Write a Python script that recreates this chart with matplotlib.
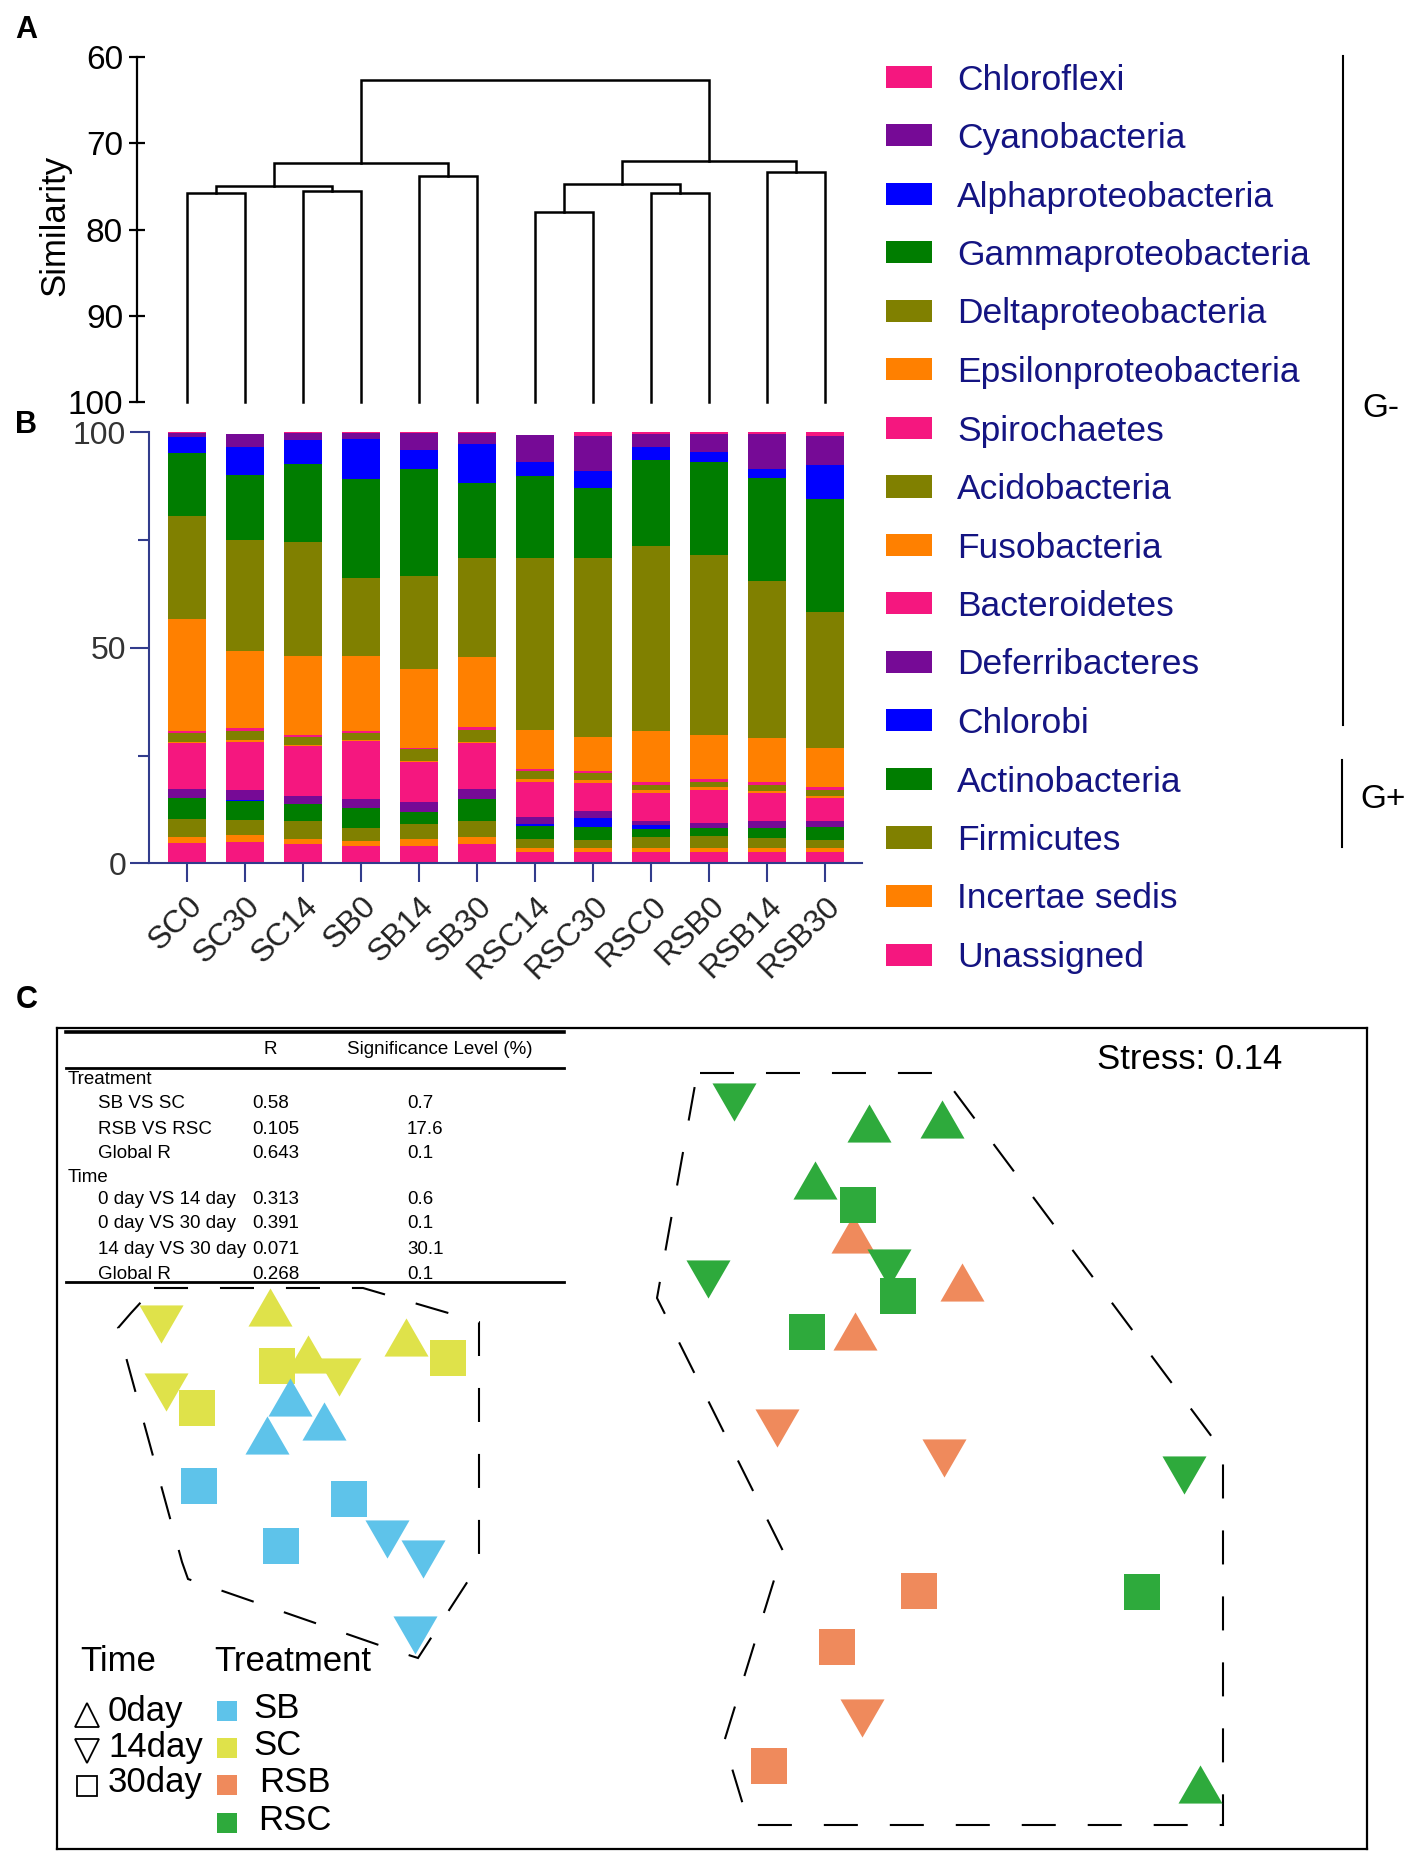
import matplotlib
matplotlib.use('Agg')
import matplotlib.pyplot as plt
from matplotlib.patches import Rectangle, Polygon
from matplotlib.lines import Line2D
import numpy as np

plt.rcParams['font.family'] = ['Liberation Sans', 'DejaVu Sans']

W, H = 1421, 1867

# ---------------- data ----------------
samples = ['SC0', 'SC30', 'SC14', 'SB0', 'SB14', 'SB30',
           'RSC14', 'RSC30', 'RSC0', 'RSB0', 'RSB14', 'RSB30']

# relative abundance (%), stacked bottom -> top
unassigned  = [4.8, 5.0, 4.4, 4.0, 4.0, 4.4, 2.6, 2.6, 2.6, 2.6, 2.6, 2.6]
incertae    = [1.4, 1.6, 1.2, 1.2, 1.6, 1.6, 0.9, 1.0, 0.9, 0.9, 0.9, 0.9]
firmicutes  = [4.1, 3.5, 4.1, 3.1, 3.5, 3.9, 2.1, 1.7, 2.7, 2.8, 2.3, 1.8]
actino      = [4.8, 4.4, 4.0, 4.6, 2.7, 5.0, 3.1, 3.1, 1.7, 1.8, 2.5, 3.2]
chlorobi    = [0.0, 0.3, 0.0, 0.0, 0.0, 0.0, 0.4, 2.0, 1.0, 0.0, 0.0, 0.0]
deferri     = [2.1, 2.1, 1.9, 2.0, 2.4, 2.3, 1.7, 1.8, 1.0, 1.3, 1.4, 1.2]
bacteroid   = [10.6, 11.3, 11.5, 13.5, 9.2, 10.6, 8.1, 6.4, 6.5, 7.6, 6.5, 5.4]
fuso        = [0.4, 0.4, 0.4, 0.2, 0.3, 0.4, 0.6, 0.7, 0.6, 0.6, 0.6, 0.4]
acido       = [2.0, 2.1, 1.7, 1.7, 2.8, 2.7, 1.8, 1.6, 1.2, 1.3, 1.4, 1.5]
spiro       = [0.5, 0.6, 0.6, 0.4, 0.3, 0.7, 0.6, 0.6, 0.7, 0.7, 0.6, 0.6]
epsilon     = [25.9, 18.0, 18.3, 17.4, 18.2, 16.2, 9.0, 7.9, 11.8, 10.2, 10.2, 9.1]
delta       = [24.0, 25.7, 26.5, 18.2, 21.7, 23.1, 40.0, 41.5, 43.0, 41.7, 36.4, 31.5]
gamma       = [14.5, 15.1, 18.1, 22.8, 24.7, 17.3, 19.0, 16.1, 19.9, 21.7, 24.1, 26.3]
alpha       = [3.9, 6.6, 5.5, 9.3, 4.5, 9.2, 3.1, 4.1, 3.1, 2.3, 1.9, 7.9]
cyano       = [0.8, 3.0, 1.6, 1.4, 4.0, 2.4, 6.3, 8.1, 2.8, 4.0, 8.1, 6.8]
chloroflexi = [0.2, 0.0, 0.2, 0.2, 0.1, 0.2, 0.0, 0.8, 0.5, 0.5, 0.5, 0.8]

PINK, PURPLE, BLUE, GREEN, OLIVE, ORANGE = '#f5177f', '#760a96', '#0000ff', '#007d00', '#808000', '#ff8000'

# (label, values, colour) from bottom to top of the stack
stack = [
    ('Unassigned', unassigned, PINK),
    ('Incertae sedis', incertae, ORANGE),
    ('Firmicutes', firmicutes, OLIVE),
    ('Actinobacteria', actino, GREEN),
    ('Chlorobi', chlorobi, BLUE),
    ('Deferribacteres', deferri, PURPLE),
    ('Bacteroidetes', bacteroid, PINK),
    ('Fusobacteria', fuso, ORANGE),
    ('Acidobacteria', acido, OLIVE),
    ('Spirochaetes', spiro, PINK),
    ('Epsilonproteobacteria', epsilon, ORANGE),
    ('Deltaproteobacteria', delta, OLIVE),
    ('Gammaproteobacteria', gamma, GREEN),
    ('Alphaproteobacteria', alpha, BLUE),
    ('Cyanobacteria', cyano, PURPLE),
    ('Chloroflexi', chloroflexi, PINK),
]

# dendrogram merges: (node a, node b, similarity); new nodes numbered from 12
merges = [(0, 1, 75.8), (2, 3, 75.5), (12, 13, 75.0), (4, 5, 73.8), (14, 15, 72.3),
          (6, 7, 78.0), (8, 9, 75.8), (17, 18, 74.7), (10, 11, 73.3), (19, 20, 72.0),
          (16, 21, 62.7)]

# ANOSIM table
table_rows  = ['Treatment', 'SB VS SC', 'RSB VS RSC', 'Global R', 'Time',
               '0 day VS 14 day', '0 day VS 30 day', '14 day VS 30 day', 'Global R']
table_r     = ['', '0.58', '0.105', '0.643', '', '0.313', '0.391', '0.071', '0.268']
table_sig   = ['', '0.7', '17.6', '0.1', '', '0.6', '0.1', '30.1', '0.1']

# NMDS coordinates (arbitrary units), by treatment and time
nmds = {
    'SC':  {'0':  ([2.13, 2.51, 3.49], [5.42, 4.95, 5.12]),
            '14': ([1.04, 2.82, 1.09], [5.25, 4.72, 4.57]),
            '30': ([3.91, 2.20, 1.40], [4.91, 4.83, 4.41])},
    'SB':  {'0':  ([2.33, 2.67, 2.10], [4.52, 4.28, 4.14]),
            '14': ([3.30, 3.66, 3.58], [3.10, 2.90, 2.14]),
            '30': ([1.42, 2.92, 2.24], [3.63, 3.50, 3.03])},
    'RSB': {'0':  ([7.96, 9.05, 7.98], [6.15, 5.67, 5.18]),
            '14': ([7.20, 8.87, 8.05], [4.21, 3.91, 1.31]),
            '30': ([8.62, 7.80, 7.12], [2.58, 2.02, 0.83])},
    'RSC': {'0':  ([8.12, 8.85, 7.58, 11.43], [7.26, 7.30, 6.69, 0.65]),
            '14': ([6.77, 8.32, 6.51, 11.27], [7.47, 5.81, 5.70, 3.74]),
            '30': ([8.01, 8.41, 7.50, 10.85], [6.44, 5.53, 5.17, 2.57])},
}
treat_colors = {'SB': '#5ec3ea', 'SC': '#dfe24a', 'RSB': '#ef8a5c', 'RSC': '#2eaa3c'}
hull_left = [(0.97, 5.61), (3.06, 5.61), (4.22, 5.27), (4.22, 2.85), (3.61, 1.91),
             (3.42, 1.97), (1.31, 2.70), (1.25, 2.87), (0.61, 5.21), (0.74, 5.36)]
hull_right = [(6.43, 7.76), (8.85, 7.76), (8.94, 7.62), (11.58, 4.08), (11.66, 3.93),
              (11.66, 0.24), (6.93, 0.24), (6.87, 0.41), (6.67, 1.07), (7.26, 2.98),
              (6.00, 5.51), (6.38, 7.64)]
stress = 0.14

# ---------------- figure ----------------
fig = plt.figure(figsize=(W / 100, H / 100), dpi=100)


def fx(px):
    return px / W


def fy(py):
    return 1 - py / H


NAVY = '#323c8c'
TXT_NAVY = '#141482'

# ---- Panel A: dendrogram ----
axd = fig.add_axes([fx(137), fy(402.3), (862 - 137) / W, (402.3 - 57) / H])
node_x = list(range(len(samples)))
node_h = [100.0] * len(samples)
for a, b, h in merges:
    axd.plot([node_x[a], node_x[a], node_x[b], node_x[b]],
             [node_h[a], h, h, node_h[b]], color='black', lw=1.8,
             solid_joinstyle='miter', clip_on=False)
    node_x.append((node_x[a] + node_x[b]) / 2)
    node_h.append(h)
axd.set_xlim(-(187 - 137) / 58, 11 + (862 - 825) / 58)
axd.set_ylim(100, 60)
axd.set_yticks([60, 70, 80, 90, 100])
axd.set_xticks([])
for s in ['top', 'right', 'bottom']:
    axd.spines[s].set_visible(False)
axd.spines['left'].set_linewidth(1.6)
axd.tick_params(axis='y', direction='inout', length=12, width=1.6, pad=4,
                labelsize=24)
axd.patch.set_alpha(0)
fig.text(fx(55), fy(225), 'Similarity', rotation=90, fontsize=25,
         ha='center', va='center')

# ---- Panel B: stacked bars ----
axb = fig.add_axes([fx(149), fy(863.3), (862 - 149) / W, (863.3 - 432.3) / H])
xpos = np.arange(len(samples))
bottom = np.zeros(len(samples))
for name, vals, col in stack:
    axb.bar(xpos, vals, bottom=bottom, width=0.67, color=col, linewidth=0)
    bottom += np.array(vals)
axb.set_xlim(-(187 - 149) / 58, 11 + (862 - 825) / 58)
axb.set_ylim(0, 100)
axb.set_yticks([0, 50, 100])
axb.set_yticks([25, 75], minor=True)
axb.set_xticks(xpos)
axb.set_xticklabels(samples, rotation=45, ha='right', rotation_mode='anchor')
for s in ['top', 'right']:
    axb.spines[s].set_visible(False)
for s in ['left', 'bottom']:
    axb.spines[s].set_color(NAVY)
    axb.spines[s].set_linewidth(1.5)
axb.tick_params(axis='y', which='major', length=13.5, width=1.5, color=NAVY,
                labelsize=23, labelcolor='#333333', pad=3)
axb.tick_params(axis='y', which='minor', length=8, width=1.5, color=NAVY)
axb.tick_params(axis='x', length=14, width=1.5, color=NAVY, labelsize=23,
                labelcolor='#222222', pad=6)

# legend of taxa (top to bottom, reverse of stack)
for i, (name, vals, col) in enumerate(stack[::-1]):
    yc = 77 + 58.5 * i
    fig.patches.append(Rectangle((fx(886), fy(yc + 11)), 46 / W, 22 / H,
                                 transform=fig.transFigure, color=col, lw=0))
    fig.text(fx(957), fy(yc + 12.5), name, ha='left', va='baseline',
             fontsize=25.5, color=TXT_NAVY)

fig.add_artist(Line2D([fx(1343)] * 2, [fy(56), fy(725)], color='black', lw=1.5))
fig.add_artist(Line2D([fx(1342)] * 2, [fy(760), fy(847)], color='black', lw=1.5))
fig.text(fx(1362), fy(408), 'G-', fontsize=24, va='center', ha='left')
fig.text(fx(1360), fy(799), 'G+', fontsize=24, va='center', ha='left')

# panel letters
for letter, px, py in [('A', 26, 30), ('B', 26, 425), ('C', 27, 1000)]:
    fig.text(fx(px), fy(py), letter, fontsize=22, fontweight='bold',
             ha='center', va='center')

# ---- Panel C: NMDS ----
axc = fig.add_axes([fx(57), fy(1849), (1367 - 57) / W, (1849 - 1028) / H])
axc.set_xlim(0, 13.10)
axc.set_ylim(0, 8.21)
axc.set_xticks([])
axc.set_yticks([])
for s in axc.spines.values():
    s.set_linewidth(1.6)

tri_up = [(-1, -0.866), (1, -0.866), (0, 0.866)]
tri_dn = [(-1, 0.866), (1, 0.866), (0, -0.866)]
time_markers = {'0': (tri_up, 1005), '14': (tri_dn, 1005), '30': ('s', 671)}

dash = (0, (24.5 / 1.5, 23 / 1.5))
for hull in (hull_left, hull_right):
    axc.add_patch(Polygon(hull, closed=True, fill=False, edgecolor='black',
                          lw=1.5, linestyle=dash))

for treat in ['SC', 'SB', 'RSB', 'RSC']:
    for t, (mk, sz) in time_markers.items():
        xs, ys = nmds[treat][t]
        axc.scatter(xs, ys, marker=mk, s=sz, color=treat_colors[treat],
                    linewidths=0, zorder=3)

axc.text(0.935, 0.962, 'Stress: %.2f' % stress, transform=axc.transAxes,
         ha='right', va='center', fontsize=25)

# ANOSIM table
fig.add_artist(Line2D([fx(66), fx(564)], [fy(1031.5)] * 2, color='black', lw=2.6))
fig.add_artist(Line2D([fx(66), fx(564)], [fy(1068)] * 2, color='black', lw=2.0))
fig.add_artist(Line2D([fx(66), fx(564)], [fy(1282)] * 2, color='black', lw=2.0))
fig.text(fx(270), fy(1050), 'R', fontsize=13.5, ha='center', va='center')
fig.text(fx(440), fy(1050), 'Significance Level (%)', fontsize=13.5,
         ha='center', va='center')
row_y = [1079, 1104, 1129, 1154, 1177, 1199, 1224, 1249, 1274]
for lab, r, sg, yy in zip(table_rows, table_r, table_sig, row_y):
    indent = 68 if lab in ('Treatment', 'Time') else 98
    fig.text(fx(indent), fy(yy), lab, fontsize=13.5, ha='left', va='center')
    fig.text(fx(252), fy(yy), r, fontsize=13.5, ha='left', va='center')
    fig.text(fx(407), fy(yy), sg, fontsize=13.5, ha='left', va='center')

# NMDS legend (Time / Treatment)
fig.text(fx(80), fy(1661), 'Time', fontsize=25, ha='left', va='center')
fig.text(fx(214), fy(1661), 'Treatment', fontsize=25, ha='left', va='center')
time_labels = ['0day', '14day', '30day']
time_ly = [1711, 1747, 1782]
time_lm = ['^', 'v', 's']
time_ms = [17, 17, 14]
for lab, yy, mk, ms in zip(time_labels, time_ly, time_lm, time_ms):
    fig.add_artist(Line2D([fx(87)], [fy(yy + 4)], marker=mk, ms=ms, mfc='white',
                          mec='black', mew=1.3, linestyle='none'))
    fig.text(fx(108), fy(yy), lab, fontsize=25, ha='left', va='center')
treat_labels = ['SB', 'SC', 'RSB', 'RSC']
treat_ly = [1708, 1745, 1782, 1820]
treat_lx = [253, 253, 259, 258]
for lab, yy, xx in zip(treat_labels, treat_ly, treat_lx):
    fig.add_artist(Line2D([fx(227)], [fy(yy + 3)], marker='s', ms=14.5,
                          color=treat_colors[lab], mew=0, linestyle='none'))
    fig.text(fx(xx), fy(yy), lab, fontsize=25, ha='left', va='center')

fig.savefig('out.png', dpi=100)
